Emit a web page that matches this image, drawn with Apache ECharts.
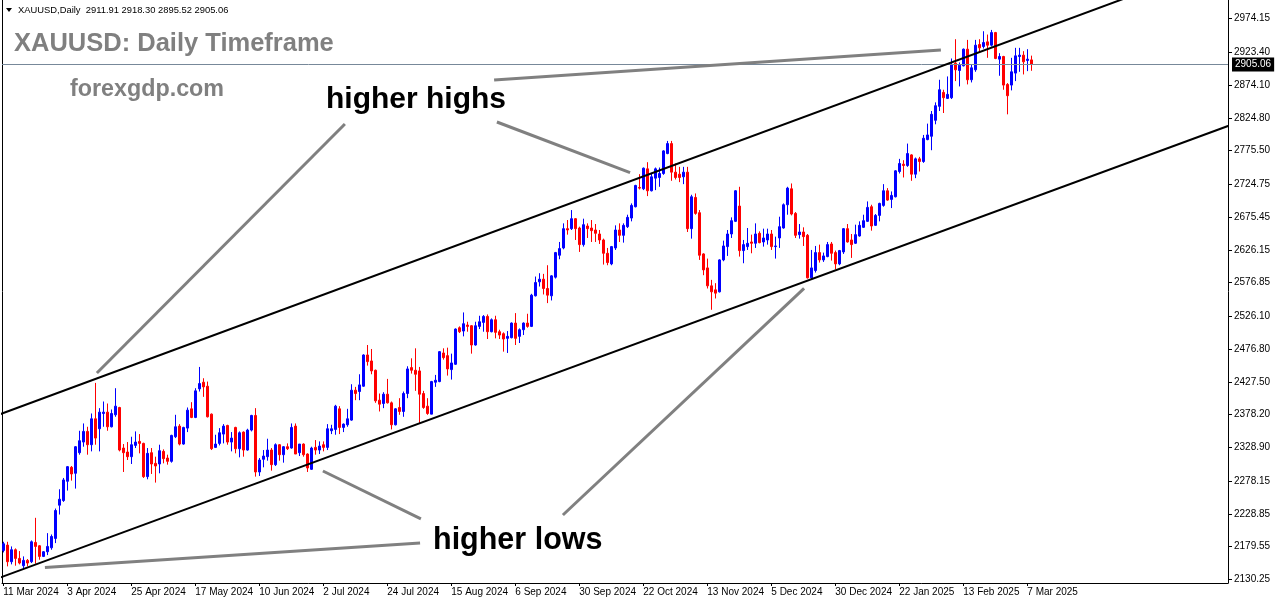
<!DOCTYPE html>
<html><head><meta charset="utf-8">
<script src="https://cdn.jsdelivr.net/npm/echarts@6/dist/echarts.min.js"></script>
<style>html,body{margin:0;padding:0;background:#fff}#c{width:1276px;height:604px}</style>
</head><body><div id="c"></div>
<script>
// Daily candles, bar 0 = 11 Mar 2024 ... bar 257 = current bar
const openP = [2174,2182,2157,2175,2162,2151,2159,2157,2186,2181,
2165,2172,2178,2192,2242,2249,2278,2299,2290,2321,
2337,2353,2333,2372,2357,2380,2382,2360,2378,2389,
2328,2322,2315,2332,2338,2335,2285,2321,2305,2304,
2323,2313,2308,2345,2361,2334,2358,2387,2374,2417,
2427,2421,2379,2329,2335,2349,2362,2337,2359,2327,
2352,2325,2355,2377,2292,2311,2315,2325,2303,2333,
2318,2330,2328,2361,2321,2334,2319,2296,2329,2325,
2333,2329,2354,2356,2387,2359,2363,2370,2415,2413,
2421,2468,2459,2445,2400,2395,2409,2396,2363,2389,
2383,2410,2449,2445,2444,2410,2391,2379,2427,2428,
2471,2467,2446,2454,2509,2504,2513,2512,2483,2511,
2517,2526,2503,2521,2503,2500,2493,2494,2516,2496,
2506,2516,2511,2557,2578,2582,2568,2557,2585,2618,
2629,2658,2658,2673,2659,2634,2662,2659,2656,2650,
2641,2621,2605,2629,2656,2648,2661,2674,2691,2720,
2718,2748,2715,2734,2735,2741,2771,2786,2743,2740,
2736,2743,2658,2705,2682,2620,2599,2572,2566,2563,
2611,2631,2650,2669,2692,2625,2631,2638,2636,2651,
2638,2641,2650,2631,2644,2659,2694,2718,2681,2649,
2653,2648,2584,2595,2622,2611,2616,2635,2622,2605,
2623,2658,2641,2636,2647,2660,2669,2691,2663,2678,
2693,2715,2702,2706,2744,2755,2753,2769,2740,2763,
2759,2792,2797,2821,2842,2863,2854,2855,2907,2896,
2903,2928,2882,2897,2935,2932,2939,2934,2953,2913,
2917,2875,2874,2892,2917,2919,2911,2911.91];
const closeP = [2184,2157,2175,2162,2155,2159,2155,2187,2180,2165,
2172,2180,2195,2234,2251,2280,2300,2289,2330,2339,
2353,2333,2372,2343,2382,2382,2360,2380,2391,2325,
2321,2315,2333,2337,2335,2285,2320,2304,2301,2324,
2312,2308,2347,2360,2334,2359,2385,2374,2414,2425,
2420,2375,2327,2334,2351,2361,2337,2343,2327,2351,
2325,2355,2377,2292,2310,2316,2325,2303,2333,2318,
2330,2327,2359,2319,2334,2318,2298,2328,2325,2331,
2329,2357,2357,2391,2359,2364,2372,2415,2410,2423,
2468,2458,2444,2399,2394,2409,2396,2363,2387,2383,
2410,2447,2445,2439,2409,2389,2380,2428,2430,2473,
2464,2447,2456,2507,2503,2515,2511,2483,2512,2518,
2526,2503,2521,2502,2498,2492,2496,2516,2493,2506,
2516,2511,2558,2577,2582,2568,2558,2587,2622,2628,
2658,2656,2673,2658,2634,2664,2658,2655,2651,2641,
2621,2607,2631,2656,2648,2663,2675,2693,2723,2719,
2749,2715,2736,2748,2741,2775,2786,2743,2735,2735,
2743,2658,2706,2681,2618,2596,2572,2563,2561,2611,
2632,2650,2670,2715,2625,2634,2636,2636,2650,2637,
2644,2650,2631,2632,2661,2694,2719,2680,2648,2653,
2646,2584,2599,2622,2611,2617,2634,2621,2605,2625,
2658,2638,2634,2649,2663,2670,2690,2662,2678,2696,
2715,2701,2708,2745,2756,2753,2771,2740,2763,2759,
2794,2799,2830,2843,2867,2855,2860,2905,2897,2904,
2928,2882,2900,2934,2930,2938,2934,2953,2914,2917,
2874,2858,2894,2918,2919,2909,2913,2905.06];
const lowP = [2171,2150,2153,2151,2153,2146,2150,2155,2154,2160,
2164,2167,2175,2185,2228,2247,2264,2279,2267,2318,
2330,2318,2323,2333,2323,2360,2354,2359,2375,2323,
2292,2310,2304,2328,2320,2283,2281,2289,2276,2290,
2305,2303,2306,2343,2332,2333,2352,2373,2373,2413,
2405,2374,2325,2328,2332,2335,2333,2323,2320,2314,
2315,2324,2353,2285,2286,2299,2309,2294,2301,2309,
2306,2325,2327,2319,2316,2315,2292,2295,2318,2319,
2323,2325,2349,2348,2349,2352,2360,2369,2400,2400,
2420,2452,2439,2396,2383,2388,2395,2356,2362,2378,
2375,2403,2440,2414,2365,2387,2378,2379,2420,2427,
2461,2437,2431,2453,2501,2496,2503,2470,2482,2507,
2503,2492,2502,2493,2492,2473,2471,2493,2483,2486,
2498,2509,2510,2556,2571,2559,2546,2550,2583,2612,
2627,2649,2656,2641,2623,2631,2644,2638,2638,2635,
2604,2603,2603,2626,2638,2637,2659,2669,2690,2717,
2716,2707,2714,2716,2721,2739,2770,2730,2732,2728,
2725,2653,2643,2679,2611,2588,2568,2536,2553,2562,
2609,2617,2644,2668,2616,2606,2626,2621,2629,2636,
2631,2634,2626,2613,2629,2658,2679,2678,2644,2643,
2632,2583,2582,2592,2607,2608,2615,2610,2597,2603,
2620,2637,2614,2635,2646,2659,2668,2655,2662,2669,
2691,2700,2689,2705,2741,2735,2751,2730,2734,2744,
2757,2791,2776,2815,2835,2832,2853,2853,2880,2872,
2902,2875,2878,2894,2924,2929,2915,2932,2913,2888,
2867,2830,2866,2880,2894,2890,2895,2895.52];
const highP = [2187,2187,2180,2177,2173,2165,2161,2189,2223,2182,
2173,2200,2198,2237,2266,2283,2301,2301,2331,2354,
2365,2360,2380,2426,2388,2398,2395,2386,2418,2390,
2334,2337,2345,2353,2349,2336,2328,2328,2315,2333,
2326,2318,2348,2378,2364,2360,2389,2397,2418,2450,
2433,2428,2380,2348,2358,2364,2363,2352,2360,2353,
2353,2357,2378,2388,2313,2325,2342,2328,2335,2334,
2331,2335,2365,2365,2334,2335,2320,2330,2340,2338,
2338,2364,2363,2393,2391,2365,2387,2424,2420,2439,
2469,2483,2477,2446,2410,2412,2432,2398,2388,2403,
2413,2451,2463,2478,2450,2414,2403,2429,2438,2474,
2478,2479,2470,2508,2511,2532,2518,2513,2518,2527,
2528,2529,2523,2527,2506,2502,2504,2517,2531,2508,
2517,2530,2560,2586,2591,2590,2603,2588,2623,2638,
2666,2671,2686,2674,2661,2673,2666,2671,2665,2656,
2643,2629,2632,2663,2666,2666,2679,2696,2724,2740,
2750,2758,2742,2750,2750,2776,2790,2790,2756,2751,
2751,2751,2709,2711,2686,2621,2613,2581,2576,2612,
2640,2656,2675,2716,2721,2641,2659,2649,2666,2654,
2658,2658,2656,2646,2676,2696,2721,2726,2683,2665,
2660,2650,2626,2632,2634,2622,2638,2638,2625,2626,
2659,2665,2650,2664,2669,2679,2699,2694,2680,2697,
2725,2719,2714,2746,2763,2761,2786,2770,2765,2766,
2799,2816,2835,2848,2882,2867,2887,2914,2943,2908,
2929,2942,2905,2942,2943,2955,2950,2957,2954,2922,
2918,2877,2915,2930,2930,2925,2928,2918.30];

const tickBars = [0,16,32,48,64,80,96,112,128,144,160,176,192,208,224,240,256];
const tickLabels = ['11 Mar 2024','3 Apr 2024','25 Apr 2024','17 May 2024','10 Jun 2024','2 Jul 2024','24 Jul 2024','15 Aug 2024','6 Sep 2024','30 Sep 2024','22 Oct 2024','13 Nov 2024','5 Dec 2024','30 Dec 2024','22 Jan 2025','13 Feb 2025','7 Mar 2025'];
const priceTicks = [2130.25,2179.55,2228.85,2278.15,2328.90,2378.20,2427.50,2476.80,2526.10,2576.85,2626.15,2675.45,2724.75,2775.50,2824.80,2874.10,2923.40,2974.15];
const bidPrice = 2905.06;
const headerText = 'XAUUSD,Daily  2911.91 2918.30 2895.52 2905.06';

// channel lines [bar, price]
const upperTrend = [[-2, 2376.3], [320, 3092.6]];
const lowerTrend = [[-2, 2130.4], [320, 2843.0]];
// gray pointer lines [bar, price]
const pointers = [
  [[122.7, 2881.7], [234.4, 2926.8]],
  [[85.4, 2815.5], [23.4, 2440.9]],
  [[123.4, 2818.5], [156.7, 2742.2]],
  [[79.9, 2293.5], [104.4, 2221.3]],
  [[10.4, 2148.3], [104.2, 2185.2]],
  [[139.9, 2227.3], [200.2, 2568.3]]
];

const chart = echarts.init(document.getElementById('c'), null, {renderer: 'canvas'});
const candles = openP.map((o, i) => [i, o, closeP[i], lowP[i], highP[i]]);
const series = [{
  type: 'candlestick',
  data: candles,
  encode: {x: 0, y: [1, 2, 3, 4]},
  barWidth: 2,
  z: 3,
  itemStyle: {color: '#0000ff', color0: '#ff0000', borderColor: '#0000ff', borderColor0: '#ff0000', borderWidth: 1},
  markLine: {
    silent: true, symbol: 'none', animation: false,
    lineStyle: {color: '#778899', width: 1, type: 'solid'},
    label: {position: 'end', formatter: bidPrice.toFixed(2), backgroundColor: '#000', color: '#fff',
            padding: [3, 3, 1, 3], fontSize: 10, fontFamily: 'Liberation Sans', distance: 4},
    data: [{yAxis: bidPrice}]
  }
}];
[upperTrend, lowerTrend].forEach(t => series.push({
  type: 'line', data: t, symbol: 'none', silent: true, clip: true, z: 5,
  lineStyle: {color: '#000', width: 2}
}));
pointers.forEach(p => series.push({
  type: 'line', data: p, symbol: 'none', silent: true, z: 6,
  lineStyle: {color: '#808080', width: 3, cap: 'butt'}
}));

chart.setOption({
  animation: false,
  backgroundColor: '#fff',
  grid: {left: 2, right: 48, top: 0, bottom: 21, show: false},
  xAxis: {
    type: 'value', min: -0.325, max: 306.175,
    axisLine: {show: true, onZero: false, lineStyle: {color: '#000', width: 1}},
    axisTick: {show: true, customValues: tickBars, length: 3, lineStyle: {color: '#000'}},
    axisLabel: {customValues: tickBars, align: 'left', margin: 4, color: '#000', fontSize: 10,
      fontFamily: 'Liberation Sans Narrow, Liberation Sans',
      formatter: v => tickLabels[tickBars.indexOf(Math.round(v))] || ''},
    splitLine: {show: false}
  },
  yAxis: {
    type: 'value', position: 'right', min: 2124.98, max: 3001.99,
    axisLine: {show: true, onZero: false, lineStyle: {color: '#000', width: 1}},
    axisTick: {show: true, customValues: priceTicks, length: 4, lineStyle: {color: '#000'}},
    axisLabel: {customValues: priceTicks, margin: 6, color: '#000', fontSize: 10, fontFamily: 'Liberation Sans',
      padding: [4, 0, 0, 0], formatter: v => Number(v).toFixed(2)},
    splitLine: {show: false}
  },
  series: series,
  graphic: [
    {type: 'line', shape: {x1: 2.5, y1: 0, x2: 2.5, y2: 583}, style: {stroke: '#000', lineWidth: 1}, silent: true},
    {type: 'polygon', shape: {points: [[6, 8], [12, 8], [9, 12]]}, style: {fill: '#000'}},
    {type: 'text', x: 18, y: 10, style: {text: headerText, fill: '#000', font: '9.4px "Liberation Sans"', verticalAlign: 'middle'}},
    {type: 'text', x: 14, y: 44, style: {text: 'XAUUSD: Daily Timeframe', fill: '#808080', font: 'bold 25.5px "Liberation Sans"', verticalAlign: 'middle'}},
    {type: 'text', x: 70, y: 90, style: {text: 'forexgdp.com', fill: '#808080', font: 'bold 23.3px "Liberation Sans"', verticalAlign: 'middle'}},
    {type: 'text', x: 326, y: 100, style: {text: 'higher highs', fill: '#000', font: 'bold 30px "Liberation Sans"', verticalAlign: 'middle'}},
    {type: 'text', x: 433, y: 541, style: {text: 'higher lows', fill: '#000', font: 'bold 30.5px "Liberation Sans"', verticalAlign: 'middle'}}
  ]
});
</script></body></html>
